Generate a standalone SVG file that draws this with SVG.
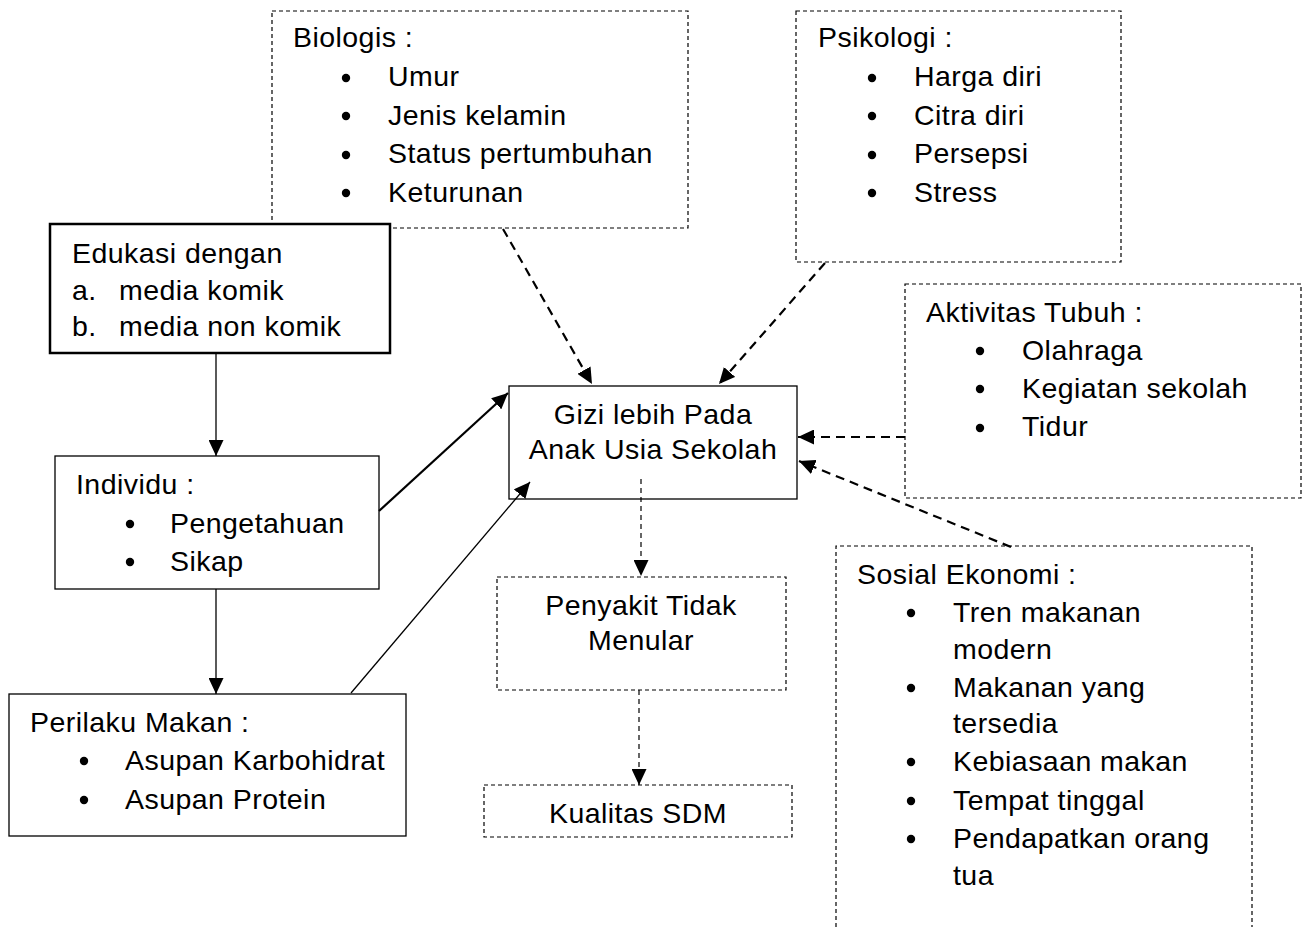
<svg xmlns="http://www.w3.org/2000/svg" width="1303" height="927" viewBox="0 0 1303 927">
<style>
text{font-family:"Liberation Sans",Arial,sans-serif;font-size:28.5px;letter-spacing:0.45px;fill:#000}
.c{text-anchor:middle}
.box{fill:#fff;stroke:#000;stroke-width:1.3}
.thick{fill:#fff;stroke:#000;stroke-width:2.5}
.dbox{fill:#fff;stroke:#000;stroke-width:1.2;stroke-dasharray:4 3}
.dl{fill:none;stroke:#000;stroke-width:1.2;stroke-dasharray:4 3}
.b{fill:#000}
.sol{fill:none;stroke:#000;stroke-width:1.3}
.sol2{fill:none;stroke:#000;stroke-width:2.2}
.dsh{fill:none;stroke:#000;stroke-width:2.2;stroke-dasharray:9 6}
.dth{fill:none;stroke:#000;stroke-width:1.2;stroke-dasharray:5 4}
</style>
<defs>
<marker id="ah" markerUnits="userSpaceOnUse" markerWidth="17" markerHeight="15" refX="16" refY="7.5" orient="auto">
<path d="M0,0 L16,7.5 L0,15 z" fill="#000" stroke="none"/>
</marker>
</defs>
<rect width="1303" height="927" fill="#fff"/>

<g id="biologis">
<rect class="dbox" x="272" y="11" width="416" height="217"/>
<text x="293" y="47">Biologis :</text>
<circle class="b" cx="346" cy="78" r="4.2"/><text x="388" y="86">Umur</text>
<circle class="b" cx="346" cy="116" r="4.2"/><text x="388" y="125">Jenis kelamin</text>
<circle class="b" cx="346" cy="155" r="4.2"/><text x="388" y="163">Status pertumbuhan</text>
<circle class="b" cx="346" cy="193" r="4.2"/><text x="388" y="202">Keturunan</text>
</g>

<g id="psikologi">
<rect class="dbox" x="796" y="11" width="325" height="251"/>
<text x="818" y="47">Psikologi :</text>
<circle class="b" cx="872" cy="78" r="4.2"/><text x="914" y="86">Harga diri</text>
<circle class="b" cx="872" cy="116" r="4.2"/><text x="914" y="125">Citra diri</text>
<circle class="b" cx="872" cy="155" r="4.2"/><text x="914" y="163">Persepsi</text>
<circle class="b" cx="872" cy="193" r="4.2"/><text x="914" y="202">Stress</text>
</g>

<g id="edukasi">
<rect class="thick" x="50" y="224" width="340" height="129"/>
<text x="72" y="263">Edukasi dengan</text>
<text x="72" y="300">a.</text><text x="119" y="300">media komik</text>
<text x="72" y="336">b.</text><text x="119" y="336">media non komik</text>
</g>

<g id="aktivitas">
<rect class="dbox" x="905" y="284" width="396" height="214"/>
<text x="926" y="322">Aktivitas Tubuh :</text>
<circle class="b" cx="980" cy="351" r="4.2"/><text x="1022" y="360">Olahraga</text>
<circle class="b" cx="980" cy="389" r="4.2"/><text x="1022" y="398">Kegiatan sekolah</text>
<circle class="b" cx="980" cy="428" r="4.2"/><text x="1022" y="436">Tidur</text>
</g>

<g id="gizi">
<rect class="box" x="509" y="386" width="288" height="113"/>
<text class="c" x="653" y="424">Gizi lebih Pada</text>
<text class="c" x="653" y="459">Anak Usia Sekolah</text>
</g>

<g id="individu">
<rect class="box" x="55" y="456" width="324" height="133"/>
<text x="76" y="494">Individu :</text>
<circle class="b" cx="130" cy="524" r="4.2"/><text x="170" y="533">Pengetahuan</text>
<circle class="b" cx="130" cy="562" r="4.2"/><text x="170" y="571">Sikap</text>
</g>

<g id="sosial">
<path class="dl" d="M836,927 V546 H1252 V927"/>
<text x="857" y="584">Sosial Ekonomi :</text>
<circle class="b" cx="911" cy="613" r="4.2"/><text x="953" y="622">Tren makanan</text>
<text x="953" y="659">modern</text>
<circle class="b" cx="911" cy="688" r="4.2"/><text x="953" y="697">Makanan yang</text>
<text x="953" y="733">tersedia</text>
<circle class="b" cx="911" cy="762" r="4.2"/><text x="953" y="771">Kebiasaan makan</text>
<circle class="b" cx="911" cy="801" r="4.2"/><text x="953" y="810">Tempat tinggal</text>
<circle class="b" cx="911" cy="839" r="4.2"/><text x="953" y="848">Pendapatkan orang</text>
<text x="953" y="885">tua</text>
</g>

<g id="penyakit">
<rect class="dbox" x="497" y="577" width="289" height="113"/>
<text class="c" x="641" y="615">Penyakit Tidak</text>
<text class="c" x="641" y="650">Menular</text>
</g>

<g id="perilaku">
<rect class="box" x="9" y="694" width="397" height="142"/>
<text x="30" y="732">Perilaku Makan :</text>
<circle class="b" cx="84" cy="761" r="4.2"/><text x="125" y="770">Asupan Karbohidrat</text>
<circle class="b" cx="84" cy="800" r="4.2"/><text x="125" y="809">Asupan Protein</text>
</g>

<g id="kualitas">
<rect class="dbox" x="484" y="785" width="308" height="52"/>
<text class="c" x="638" y="823">Kualitas SDM</text>
</g>

<g id="connectors">
<line class="sol" x1="216" y1="353" x2="216" y2="456" marker-end="url(#ah)"/>
<line class="sol" x1="216" y1="589" x2="216" y2="694" marker-end="url(#ah)"/>
<line class="sol2" x1="379" y1="511" x2="508" y2="393" marker-end="url(#ah)"/>
<line class="sol" x1="351" y1="693" x2="530" y2="482" marker-end="url(#ah)"/>
<line class="dsh" x1="503" y1="229" x2="592" y2="384" marker-end="url(#ah)"/>
<line class="dsh" x1="825" y1="263" x2="719" y2="384" marker-end="url(#ah)"/>
<line class="dsh" x1="905" y1="437" x2="798" y2="437" marker-end="url(#ah)"/>
<line class="dsh" x1="1011" y1="547" x2="799" y2="461" marker-end="url(#ah)"/>
<line class="dth" x1="641" y1="479" x2="641" y2="576" marker-end="url(#ah)"/>
<line class="dth" x1="639" y1="690" x2="639" y2="785" marker-end="url(#ah)"/>
</g>
</svg>
